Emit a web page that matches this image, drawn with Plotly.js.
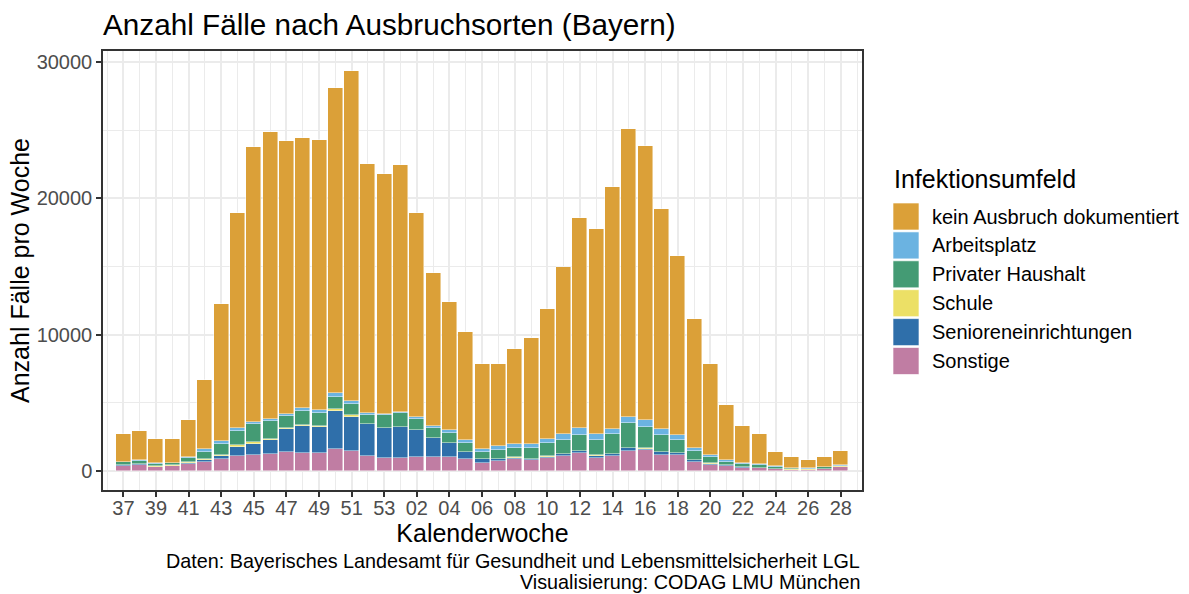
<!DOCTYPE html>
<html>
<head>
<meta charset="utf-8">
<script src="https://cdn.plot.ly/plotly-3.0.1.min.js"></script>
<style>
  html, body { margin: 0; padding: 0; background: #fff; }
  #chart { width: 1189px; height: 594px; }
</style>
</head>
<body>
<div id="chart"></div>
<script>
// Calendar weeks (2020 KW37 .. 2021 KW28)
const weeks = ["37","38","39","40","41","42","43","44","45","46","47","48","49","50","51","52","53",
               "01","02","03","04","05","06","07","08","09","10","11","12","13","14","15","16","17","18","19","20",
               "21","22","23","24","25","26","27","28"];
const tickLabels = ["37","39","41","43","45","47","49","51","53","02","04","06","08","10","12","14","16","18","20","22","24","26","28"];

// Cases per week by setting
const sonstige = [340,440,270,340,490,640,880,1080,1150,1200,1390,1320,1270,1590,1420,1080,900,
                  950,1030,1030,1030,830,590,710,830,760,950,1080,1270,930,1080,1470,1520,1170,1120,640,440,
                  340,220,220,120,70,70,120,240];
const senioren = [50,50,25,0,100,170,170,680,830,1050,1660,1980,1930,2810,2540,2350,2270,
                  2270,1960,1340,980,510,240,170,70,120,70,150,170,150,150,220,70,170,150,150,50,
                  50,25,0,25,0,0,25,25];
const schule = [0,0,70,70,50,70,100,100,100,70,70,70,70,100,150,25,0,
                0,0,0,0,0,0,0,70,0,70,0,0,70,0,0,100,0,0,0,100,
                0,0,0,0,25,25,0,50];
const haushalt = [245,245,120,150,320,510,780,1080,1340,1300,880,980,950,900,780,660,930,
                  1000,810,730,730,660,560,640,680,780,930,1030,1170,1120,1440,1790,1490,1270,980,660,440,
                  245,220,220,100,70,50,100,50];
const arbeitsplatz = [25,50,50,30,30,170,220,170,150,150,170,220,270,270,240,100,70,
                      120,150,170,270,270,200,290,340,320,340,440,490,390,370,440,540,420,370,240,150,
                      120,70,70,70,70,25,25,25];
const keinAusbruch = [2030,2145,1785,1730,2700,5070,10070,15840,20170,21070,20010,19860,19810,22450,24230,18300,17610,
                      18100,15000,11230,9340,7930,6210,5990,6910,7730,9500,12240,15460,15120,17770,21190,20140,16210,13130,9430,6690,
                      4085,2715,2180,1025,745,610,760,1050];

const seriesNames = ["kein Ausbruch dokumentiert","Arbeitsplatz","Privater Haushalt","Schule","Senioreneinrichtungen","Sonstige"];
const seriesColors = ["#DBA038","#6BB3E1","#449B74","#ECE066","#2F6FAA","#C07DA3"];
const seriesValues = [keinAusbruch, arbeitsplatz, haushalt, schule, senioren, sonstige];

const xIdx = weeks.map((w, i) => i);
const tickIdx = weeks.map((w, i) => i).filter(i => tickLabels.includes(weeks[i]) && i % 2 === 0);

// stack bottom -> top
const traces = [];
for (let k = seriesNames.length - 1; k >= 0; k--) {
  traces.push({
    type: "bar",
    name: seriesNames[k],
    x: xIdx,
    y: seriesValues[k],
    width: 0.92,
    marker: { color: seriesColors[k], line: { color: "rgba(255,255,255,0.75)", width: 0.6 } },
    showlegend: false,
    hovertemplate: "KW %{customdata}: %{y}<extra>" + seriesNames[k] + "</extra>",
    customdata: weeks
  });
}

// panel geometry in pixels (for legend placement)
const L = 103, R = 862, T = 51, B = 490;
const px = v => (v - L) / (R - L);
const py = v => (B - v) / (B - T);

const FONT = "Liberation Sans, Arial, sans-serif";
const shapes = [];
const annotations = [];

// Custom legend
annotations.push({ text: "Infektionsumfeld", xref: "paper", yref: "paper", x: px(892), y: py(179),
  xanchor: "left", yanchor: "middle", showarrow: false, font: { family: FONT, size: 25, color: "#000" } });
seriesNames.forEach((nm, i) => {
  const top = 203 + 28.9 * i;
  shapes.push({ type: "rect", xref: "paper", yref: "paper", x0: px(893), x1: px(919), y0: py(top + 27), y1: py(top),
    fillcolor: seriesColors[i], line: { color: "rgba(255,255,255,0.8)", width: 0.8 } });
  annotations.push({ text: nm, xref: "paper", yref: "paper", x: px(930), y: py(top + 13.5),
    xanchor: "left", yanchor: "middle", showarrow: false, font: { family: FONT, size: 20, color: "#000" } });
});

// Caption
annotations.push({ text: "Daten: Bayerisches Landesamt für Gesundheit und Lebensmittelsicherheit LGL", xref: "paper", yref: "paper",
  x: 1, y: py(561), xanchor: "right", yanchor: "middle", showarrow: false, font: { family: FONT, size: 19.8, color: "#000" } });
annotations.push({ text: "Visualisierung: CODAG LMU München", xref: "paper", yref: "paper",
  x: 1, y: py(582), xanchor: "right", yanchor: "middle", showarrow: false, font: { family: FONT, size: 19.8, color: "#000" } });

const layout = {
  width: 1189, height: 594,
  margin: { l: L, r: 1189 - R, t: T, b: 594 - B },
  paper_bgcolor: "#fff", plot_bgcolor: "#fff",
  barmode: "stack", bargap: 0,
  font: { family: FONT },
  title: { text: "Anzahl Fälle nach Ausbruchsorten (Bayern)", xref: "container", yref: "container",
           x: 103 / 1189, xanchor: "left", y: 1 - 25 / 594, yanchor: "middle",
           font: { family: FONT, size: 29.7, color: "#000" } },
  xaxis: {
    range: [-1.25, 45.3], tickmode: "array", tickvals: tickIdx, ticktext: tickIdx.map(i => weeks[i]),
    showgrid: true, gridcolor: "#EBEBEB", gridwidth: 2,
    minor: { tick0: 0, dtick: 1, showgrid: true, gridcolor: "#EBEBEB", gridwidth: 1, ticklen: 0 },
    zeroline: false, showline: true, mirror: true, linecolor: "#333333", linewidth: 1.5,
    ticks: "outside", ticklen: 5, tickwidth: 2, tickcolor: "#333333", ticklabelstandoff: -6,
    tickfont: { family: FONT, size: 20, color: "#4D4D4D" },
    title: { text: "Kalenderwoche", font: { family: FONT, size: 25, color: "#000" }, standoff: 2 },
    fixedrange: true
  },
  yaxis: {
    range: [-1417, 30815], tickmode: "array", tickvals: [0, 10000, 20000, 30000], ticktext: ["0","10000","20000","30000"],
    showgrid: true, gridcolor: "#EBEBEB", gridwidth: 2,
    minor: { tickmode: "array", tickvals: [5000, 15000, 25000], showgrid: true, gridcolor: "#EBEBEB", gridwidth: 1, ticklen: 0 },
    zeroline: false, showline: true, mirror: true, linecolor: "#333333", linewidth: 1.5,
    ticks: "outside", ticklen: 5, tickwidth: 2, tickcolor: "#333333",
    tickfont: { family: FONT, size: 20, color: "#4D4D4D" },
    title: { text: "Anzahl Fälle pro Woche", font: { family: FONT, size: 25, color: "#000" }, standoff: 0 },
    fixedrange: true
  },
  shapes: shapes,
  annotations: annotations,
  showlegend: false
};

Plotly.newPlot("chart", traces, layout, { displayModeBar: false, staticPlot: false });
</script>
</body>
</html>
